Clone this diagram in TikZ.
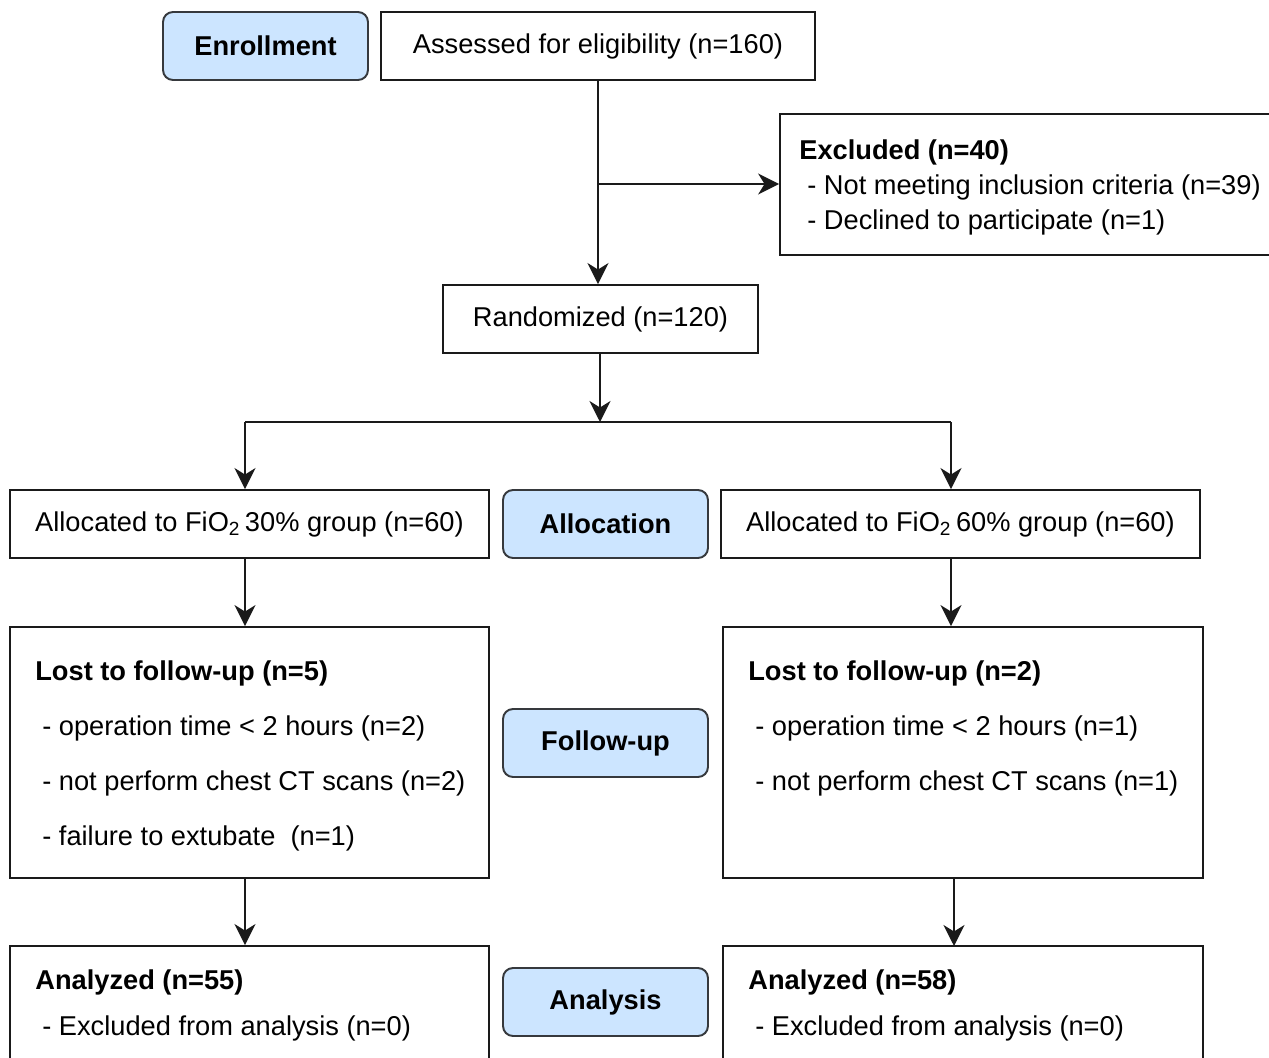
\documentclass[tikz,border=0pt]{standalone}
\usepackage{fontspec}
\setmainfont{Liberation Sans}
\usepackage{xcolor}
\usetikzlibrary{arrows.meta}
\usetikzlibrary{positioning}
\definecolor{stageBlue}{HTML}{CCE5FF}
\definecolor{stageLine}{HTML}{36393D}
\definecolor{boxLine}{HTML}{1A1A1A}
\tikzset{flow-line/.style={line width=1.1pt, draw=boxLine}}
\tikzset{>={Stealth[length=0.42cm, width=0.42cm, inset=0.13cm]}}
\tikzset{flow-box/.style={draw=boxLine, line width=1.1pt, inner sep=0,
    font=\fontsize{15.5}{18}\selectfont}}
\tikzset{stage-box/.style={flow-box, fill=stageBlue, draw=stageLine,
    rounded corners=0.2cm, minimum width=4.1cm, minimum height=1.36cm,
    font=\fontsize{15.5}{18}\selectfont\bfseries}}
\tikzset{item-text/.style={anchor=base west, inner sep=0,
    font=\fontsize{15.5}{18}\selectfont}}
\tikzset{title-text/.style={item-text, font=\fontsize{15.5}{18}\selectfont\bfseries}}

\begin{document}
\begin{tikzpicture}[x=0.02cm, y=-0.02cm]
    \clip (0,0) rectangle (1269,1058);
    \fill[white] (0,0) rectangle (1269,1058);

    % stages
    \node[stage-box] (enroll) at (265.5,46) {Enrollment};
    \node[stage-box] (alloc) at (605.5,524) {Allocation};
    \node[stage-box] (follow) at (605.5,743) {Follow-up};
    \node[stage-box] (analysis) at (605.5,1002) {Analysis};

    % enrollment
    \node[flow-box, minimum width=8.68cm, minimum height=1.36cm] (assessed) at (598,46)
        {Assessed for eligibility (n=160)};
    \node[flow-box, minimum width=10.2cm, minimum height=2.82cm] (excluded) at (1035,184.5) {};
    \node[title-text] (exclTitle) at (799,159) {Excluded (n=40)};
    \node[item-text] (exclA) at (807,194) {- Not meeting inclusion criteria (n=39)};
    \node[item-text] (exclB) at (807,229) {- Declined to participate (n=1)};
    \node[flow-box, minimum width=6.3cm, minimum height=1.36cm] (random) at (600.5,319)
        {Randomized (n=120)};

    % allocation
    \node[flow-box, minimum width=9.58cm, minimum height=1.36cm] (allocL) at (249.5,524)
        {Allocated to FiO\textsubscript{2}\,30\% group (n=60)};
    \node[flow-box, minimum width=9.58cm, minimum height=1.36cm] (allocR) at (960.5,524)
        {Allocated to FiO\textsubscript{2}\,60\% group (n=60)};

    % follow-up
    \node[flow-box, minimum width=9.58cm, minimum height=5.02cm] (lostL) at (249.5,752.5) {};
    \node[title-text] (lostLTitle) at (35,680) {Lost to follow-up (n=5)};
    \node[item-text] (lostLA) at (42,735) {- operation time < 2 hours (n=2)};
    \node[item-text] (lostLB) at (42,790) {- not perform chest CT scans (n=2)};
    \node[item-text] (lostLC) at (42,845) {- failure to extubate\ \ (n=1)};
    \node[flow-box, minimum width=9.6cm, minimum height=5.02cm] (lostR) at (963,752.5) {};
    \node[title-text] (lostRTitle) at (748,680) {Lost to follow-up (n=2)};
    \node[item-text] (lostRA) at (755,735) {- operation time < 2 hours (n=1)};
    \node[item-text] (lostRB) at (755,790) {- not perform chest CT scans (n=1)};

    % analysis
    \node[flow-box, minimum width=9.58cm, minimum height=2.88cm] (anaL) at (249.5,1018) {};
    \node[title-text] (anaLTitle) at (35,989) {Analyzed (n=55)};
    \node[item-text] (anaLA) at (42,1035) {- Excluded from analysis (n=0)};
    \node[flow-box, minimum width=9.6cm, minimum height=2.88cm] (anaR) at (963,1018) {};
    \node[title-text] (anaRTitle) at (748,989) {Analyzed (n=58)};
    \node[item-text] (anaRA) at (755,1035) {- Excluded from analysis (n=0)};

    % connectors
    \coordinate (exclJoin) at (598,184);
    \coordinate (split) at (600,422);
    \coordinate (splitL) at (245,422);
    \coordinate (splitR) at (951,422);
    \draw[flow-line, ->] (assessed.south) -- (assessed.south |- random.north);
    \draw[flow-line, ->] (exclJoin) -- (exclJoin -| excluded.west);
    \draw[flow-line, ->] (split |- random.south) -- (split);
    \draw[flow-line, ->] (splitL) -- (splitL |- allocL.north);
    \draw[flow-line, ->] (splitR) -- (splitR |- allocR.north);
    \draw[flow-line] (splitL) -- (splitR);
    \draw[flow-line, ->] (splitL |- allocL.south) -- (splitL |- lostL.north);
    \draw[flow-line, ->] (splitR |- allocR.south) -- (splitR |- lostR.north);
    \draw[flow-line, ->] (splitL |- lostL.south) -- (splitL |- anaL.north);
    \draw[flow-line, ->] (954,878) -- (954,946);
\end{tikzpicture}
\end{document}
